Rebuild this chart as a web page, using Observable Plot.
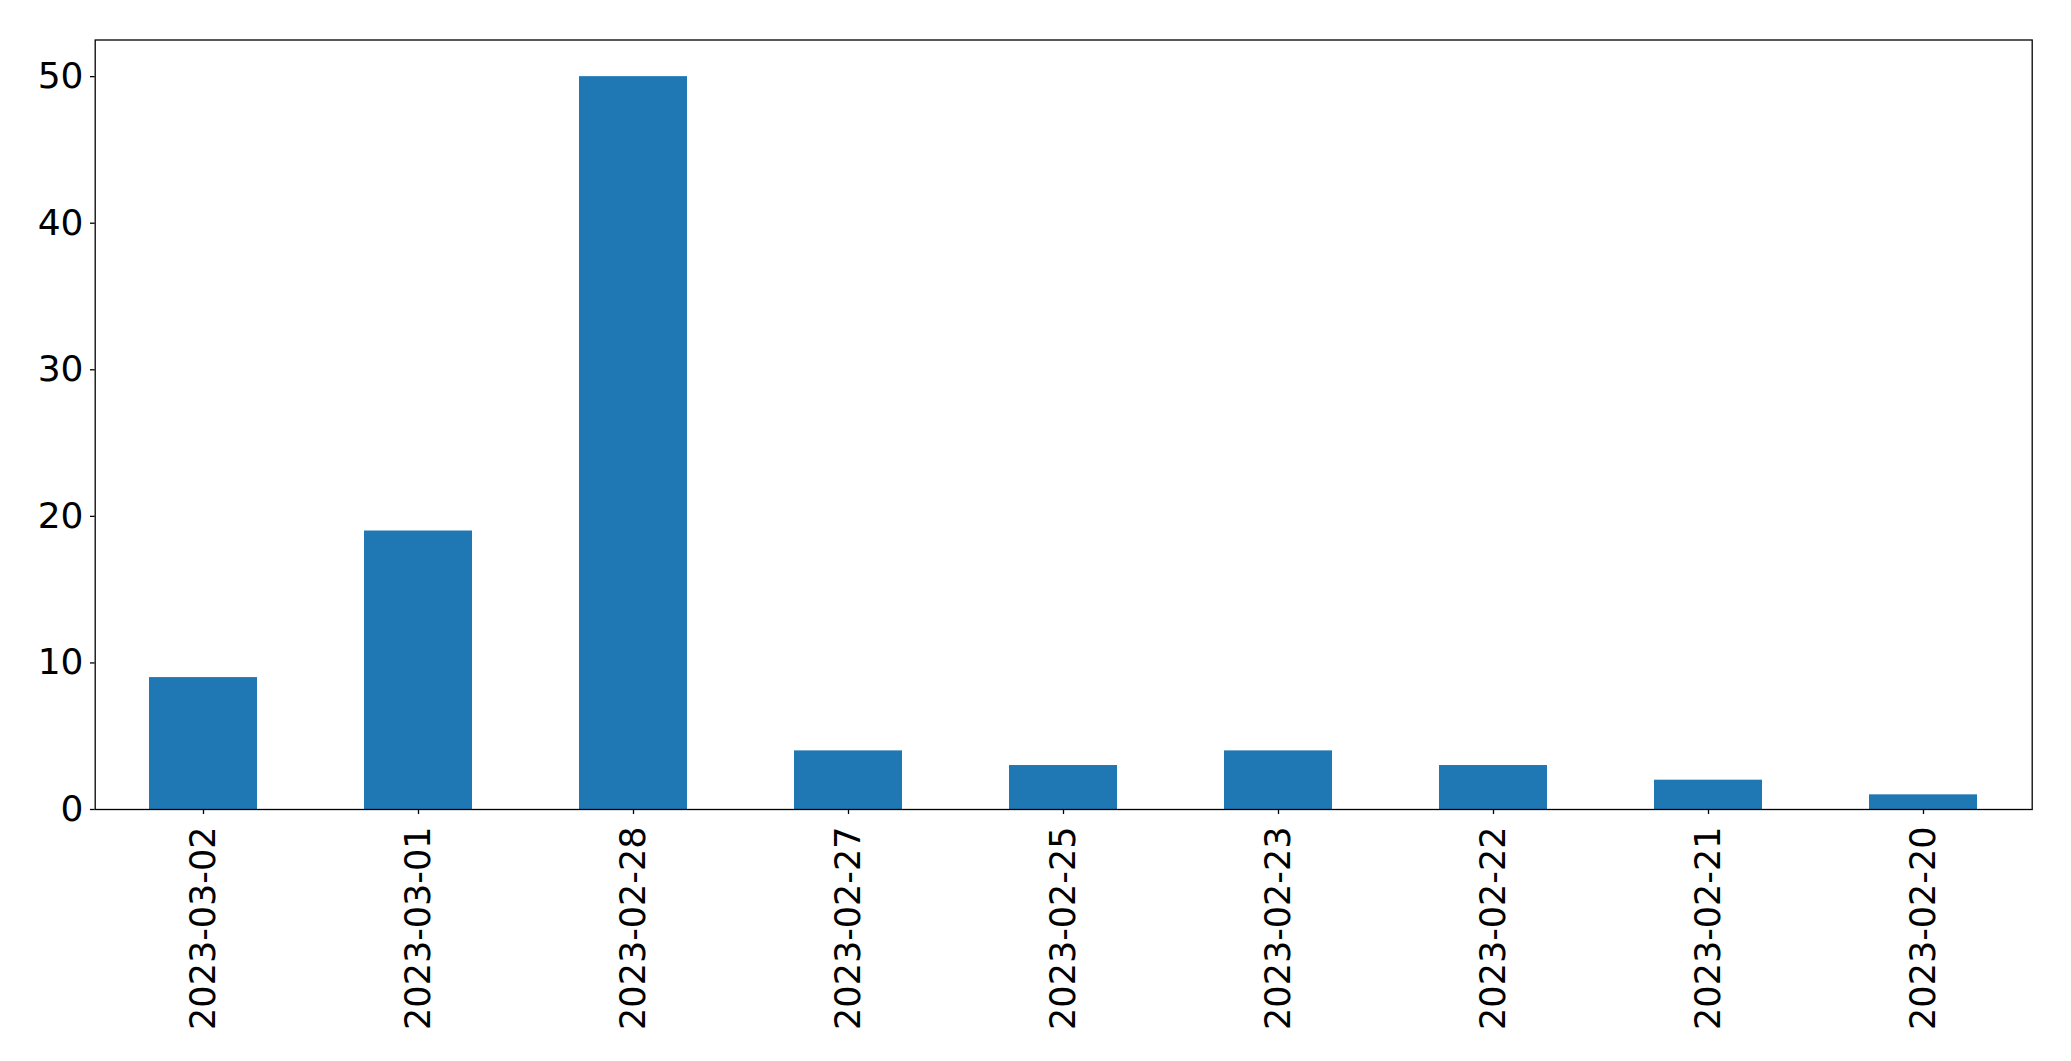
<!DOCTYPE html>
<html>
<head>
<meta charset="utf-8">
<script src="https://cdn.jsdelivr.net/npm/d3@7"></script>
<script src="https://cdn.jsdelivr.net/npm/@observablehq/plot@0.6"></script>
<style>
  html, body { margin: 0; padding: 0; background: #ffffff; overflow: hidden; }
  #chart svg { display: block; }
</style>
</head>
<body>
<div id="chart"></div>
<script>
const dates = ["2023-03-02", "2023-03-01", "2023-02-28", "2023-02-27", "2023-02-25", "2023-02-23", "2023-02-22", "2023-02-21", "2023-02-20"];
const counts = [9, 19, 50, 4, 3, 4, 3, 2, 1];
const yTicks = [0, 10, 20, 30, 40, 50];

const data = dates.map((d, i) => ({date: d, count: counts[i]}));

const chart = Plot.plot({
  width: 2071,
  height: 1061,
  marginLeft: 94.7,
  marginRight: 39.3,
  marginTop: 39.5,
  marginBottom: 252,
  style: {fontFamily: "'DejaVu Sans', sans-serif", fontSize: "35px", color: "black", background: "white"},
  x: {type: "band", domain: dates, paddingInner: 0.5, paddingOuter: 0.25, label: null},
  y: {domain: [0, 52.5], label: null},
  marks: [
    Plot.barY(data, {x: "date", y: "count", fill: "#1f77b4"}),
    Plot.axisY({ticks: yTicks, tickSize: 4.7, tickPadding: 7, label: null, fontSize: 36, stroke: "black", strokeWidth: 1.3}),
    Plot.axisX({tickRotate: -90, tickSize: 5, tickPadding: 12, label: null, fontSize: 35, stroke: "black", strokeWidth: 1.3}),
    Plot.frame({stroke: "black", strokeWidth: 1.3})
  ]
});
document.getElementById("chart").appendChild(chart);
</script>
</body>
</html>
